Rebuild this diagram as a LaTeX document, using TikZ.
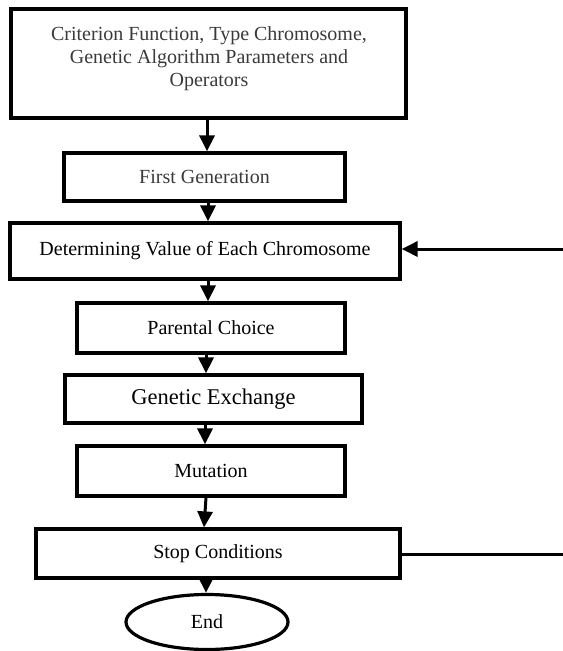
\documentclass[tikz,border=0pt]{standalone}
\usepackage{fontspec}
\setmainfont{Liberation Serif}
\usetikzlibrary{arrows.meta,shapes.geometric}
\definecolor{graytext}{HTML}{3A3A3A}
\begin{document}
\begin{tikzpicture}[x=1bp,y=-1bp,
  boxstyle/.style={draw=black,line width=3.2bp,rectangle,inner sep=0pt,
    font=\fontsize{20bp}{23bp}\selectfont,align=center},
  arr/.style={line width=3bp,-{Triangle[width=15bp,length=16bp]}},
  plain/.style={line width=3bp}]
\useasboundingbox (0,0) rectangle (563,651);
% boxes
\node[boxstyle,minimum width=395bp,minimum height=109bp] (b1) at (208.5,63.5) {};
\node[text=graytext,font=\fontsize{20bp}{23bp}\selectfont,align=center,inner sep=0pt] (b1t) at (209,59)
  {Criterion Function, Type Chromosome,\\Genetic Algorithm Parameters and\\Operators};
\node[boxstyle,text=graytext,minimum width=281bp,minimum height=48bp] (b2) at (204.5,177) {First Generation};
\node[boxstyle,minimum width=390bp,minimum height=56bp] (b3) at (205,251) {Determining Value of Each Chromosome};
\node[boxstyle,minimum width=268bp,minimum height=50bp] (b4) at (211,328) {Parental Choice};
\node[boxstyle,font=\fontsize{22.5bp}{26bp}\selectfont,minimum width=297bp,minimum height=48bp] (b5) at (213.5,399) {Genetic Exchange};
\node[boxstyle,minimum width=268bp,minimum height=50bp] (b6) at (211,471) {Mutation};
\node[boxstyle,minimum width=364bp,minimum height=49bp] (b7) at (218,553.5) {Stop Conditions};
\node[boxstyle,ellipse,minimum width=162bp,minimum height=55bp] (end) at (207,622) {End};
% columns
\coordinate (c1) at (207,0);
\coordinate (c2) at (208,0);
\coordinate (c3) at (206,0);
\coordinate (c4) at (205,0);
\coordinate (c5) at (204,0);
\coordinate (fbin) at (563,249);
\coordinate (fbout) at (563,554);
% arrows
\draw[arr] (b1.south -| c1) -- (b2.north -| c1);
\draw[arr] (b2.south -| c2) -- (b3.north -| c2);
\draw[arr] (b3.south -| c2) -- (b4.north -| c2);
\draw[arr] (b4.south -| c3) -- (b5.north -| c3);
\draw[arr] (b5.south -| c4) -- (b6.north -| c4);
\draw[arr] (b6.south -| c3) -- (b7.north -| c5);
\draw[arr] (b7.south -| c3) -- (end.north -| c3);
\draw[arr] (fbin) -- (b3.east |- fbin);
\draw[plain] (b7.east |- fbout) -- (fbout);
\end{tikzpicture}
\end{document}
